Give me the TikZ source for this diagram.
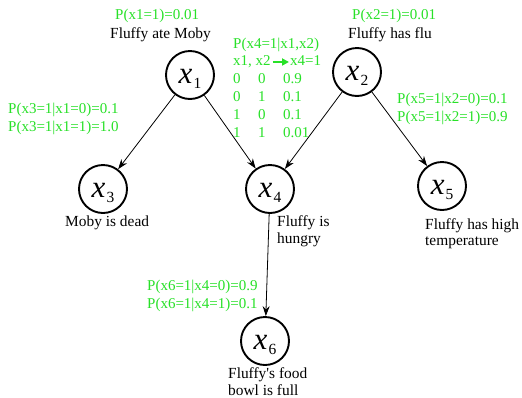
\documentclass[tikz,border=0pt]{standalone}
\usepackage{fontspec}
\setmainfont{Liberation Serif}
\usetikzlibrary{arrows.meta}
\definecolor{pgreen}{RGB}{40,225,40}
\newcommand\xlab[1]{\raisebox{-8pt}[0pt][0pt]{{\fontsize{31}{31}\selectfont\itshape x}\kern1pt\raisebox{-5pt}{\fontsize{15.5}{15.5}\selectfont #1}}}
\newcommand\trow[3]{\makebox[25pt][l]{#1}\makebox[25pt][l]{#2}#3}
\begin{document}
\begin{tikzpicture}[x=1pt,y=-1pt,
  var/.style={circle,draw,line width=1.9pt,minimum size=48pt,inner sep=0pt},
  txt/.style={anchor=base west,inner sep=0pt,font=\fontsize{15.4}{17}\selectfont},
  prob/.style={anchor=base west,inner sep=0pt,font=\fontsize{15}{17}\selectfont,text=pgreen},
  edge/.style={-{Stealth[length=10pt,width=7pt]},line width=0.8pt}]
\useasboundingbox (0,0) rectangle (522,397);
\fill[white] (0,0) rectangle (522,397);

% variable nodes
\node[var] (x1) at (190,75) {\xlab{1}};
\node[var] (x2) at (357,72) {\xlab{2}};
\node[var] (x3) at (103,189) {\xlab{3}};
\node[var] (x4) at (270,189) {\xlab{4}};
\node[var] (x5) at (442,186) {\xlab{5}};
\node[var] (x6) at (265,341) {\xlab{6}};

% edges
\draw[edge] (x1) -- (x3);
\draw[edge] (x1) -- (x4);
\draw[edge] (x2) -- (x4);
\draw[edge] (x2) -- (x5);
\draw[edge] (x4) -- (x6);

% descriptions
\node[txt] (d1) at (110,38) {Fluffy ate Moby};
\node[txt] (d2) at (348,38) {Fluffy has flu};
\node[txt] (d3) at (65,226) {Moby is dead};
\node[txt] (d4a) at (277,226) {Fluffy is};
\node[txt] (d4b) at (277,243) {hungry};
\node[txt] (d5a) at (425,229) {Fluffy has high};
\node[txt] (d5b) at (425,245) {temperature};
\node[txt] (d6a) at (228,378) {Fluffy\textquotesingle s food};
\node[txt] (d6b) at (228,395) {bowl is full};

% probabilities
\node[prob] (p1) at (115,19) {P(x1=1)=0.01};
\node[prob] (p2) at (352,19) {P(x2=1)=0.01};
\node[prob] (p3a) at (8,113) {P(x3=1|x1=0)=0.1};
\node[prob] (p3b) at (8,131) {P(x3=1|x1=1)=1.0};
\node[prob] (p5a) at (397,103) {P(x5=1|x2=0)=0.1};
\node[prob] (p5b) at (397,121) {P(x5=1|x2=1)=0.9};
\node[prob] (p6a) at (147,290) {P(x6=1|x4=0)=0.9};
\node[prob] (p6b) at (147,308) {P(x6=1|x4=1)=0.1};

% table for x4
\node[prob] (t0) at (233,48) {P(x4=1|x1,x2)};
\node[prob] (ta) at (233,65.8) {x1, x2};
\node[prob] (tb) at (290,65.8) {x4=1};
\draw[pgreen,line width=1.8pt,-{Triangle[length=7pt,width=7pt]}] ([xshift=2pt]ta.east) -- ([xshift=-1pt]ta.east -| tb.west);
\node[prob] (t1) at (233,83.6) {\trow{0}{0}{0.9}};
\node[prob] (t2) at (233,101.4) {\trow{0}{1}{0.1}};
\node[prob] (t3) at (233,119.2) {\trow{1}{0}{0.1}};
\node[prob] (t4) at (233,137) {\trow{1}{1}{0.01}};
\end{tikzpicture}
\end{document}
